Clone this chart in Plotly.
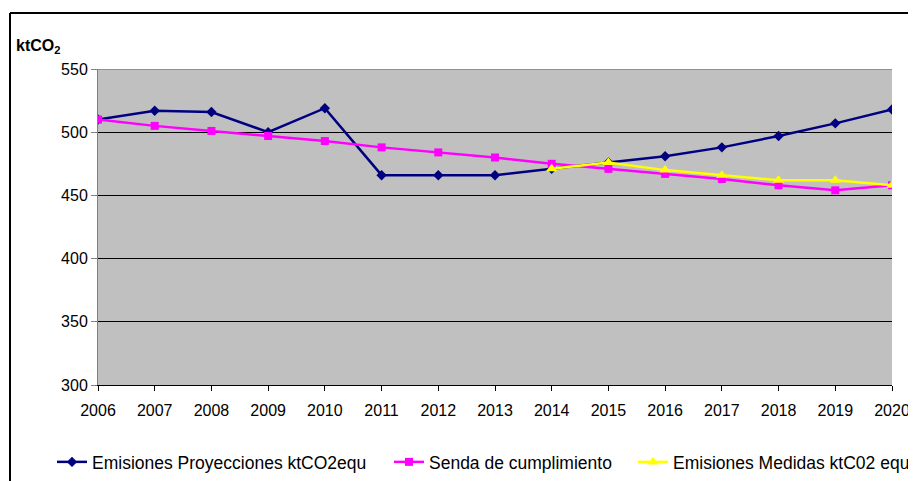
import plotly.graph_objects as go

years = list(range(2006, 2021))
proyecciones = [510, 517, 516, 500, 519, 466, 466, 466, 471, 476, 481, 488, 497, 507, 518]
senda = [510, 505, 501, 497, 493, 488, 484, 480, 475, 471, 467, 463, 458, 454, 458]
medidas_years = list(range(2014, 2021))
medidas = [471, 476, 470, 466, 462, 462, 458]
y_ticks = [300, 350, 400, 450, 500, 550]

FONT = "Liberation Sans, Arial, sans-serif"
OFF = 8  # page body margin
W, H = 916 - OFF, 481 - OFF
# target plot area in page pixels: x 98..892, y 69..385
L = 98 - OFF
T = 69 - OFF
R = W - (892 - OFF)
B = H - (385 - OFF)
pw, ph = W - L - R, H - T - B

def px(p):
    return (p - OFF - L) / pw

def py(p):
    return (H - B - (p - OFF)) / ph

fig = go.Figure()
fig.add_trace(go.Scatter(
    x=years, y=proyecciones, mode="lines+markers",
    name="Emisiones Proyecciones ktCO2equ",
    line=dict(color="#000080", width=2.5),
    marker=dict(symbol="diamond", size=8, color="#000080"),
    legend="legend",
))
fig.add_trace(go.Scatter(
    x=years, y=senda, mode="lines+markers",
    name="Senda de cumplimiento",
    line=dict(color="#FF00FF", width=2.5),
    marker=dict(symbol="square", size=8, color="#FF00FF"),
    legend="legend2",
))
fig.add_trace(go.Scatter(
    x=medidas_years, y=medidas, mode="lines+markers",
    name="Emisiones Medidas ktC02 equ",
    line=dict(color="#FFFF00", width=2.5),
    marker=dict(symbol="triangle-up", size=10, color="#FFFF00"),
    legend="legend3",
))

leg_common = dict(orientation="h", xanchor="left", yanchor="middle",
                  font=dict(family=FONT, size=17.5, color="#000000"),
                  bgcolor="rgba(0,0,0,0)", borderwidth=0)

fig.update_layout(
    width=W, height=H,
    margin=dict(l=L, r=R, t=T, b=B, autoexpand=False),
    paper_bgcolor="#FFFFFF",
    plot_bgcolor="#C0C0C0",
    font=dict(family=FONT, size=16, color="#000000"),
    xaxis=dict(
        range=[2006, 2020], tickmode="array", tickvals=years,
        ticktext=[str(y) for y in years],
        showgrid=False, zeroline=False,
        showline=True, linecolor="#000000", linewidth=1,
        ticks="outside", ticklen=5, tickcolor="#000000",
        ticklabelstandoff=6,
        tickfont=dict(family=FONT, size=16, color="#000000"),
    ),
    yaxis=dict(
        range=[300, 550], tickvals=y_ticks,
        showgrid=True, gridcolor="#000000", gridwidth=1,
        zeroline=False,
        showline=True, linecolor="#808080", linewidth=1,
        ticks="outside", ticklen=6, tickcolor="#808080",
        tickfont=dict(family=FONT, size=16, color="#000000"),
    ),
    legend=dict(x=px(52), y=py(462), **leg_common),
    legend2=dict(x=px(389), y=py(462), **leg_common),
    legend3=dict(x=px(633), y=py(462), **leg_common),
    showlegend=True,
    annotations=[dict(
        text="<b>ktCO<sub>2</sub></b>", xref="paper", yref="paper",
        x=px(14), y=py(46), xanchor="left", yanchor="middle",
        showarrow=False, font=dict(family=FONT, size=16, color="#000000"),
    )],
    shapes=[
        dict(type="line", xref="paper", yref="paper",
             x0=px(10), x1=px(940), y0=py(13), y1=py(13),
             line=dict(color="#000000", width=2)),
        dict(type="line", xref="paper", yref="paper",
             x0=px(10), x1=px(10), y0=py(13), y1=py(500),
             line=dict(color="#000000", width=2)),
        dict(type="line", xref="paper", yref="y",
             x0=0, x1=1, y0=550, y1=550, layer="above",
             line=dict(color="#606060", width=1)),
    ],
)

fig.write_html("out.html")
